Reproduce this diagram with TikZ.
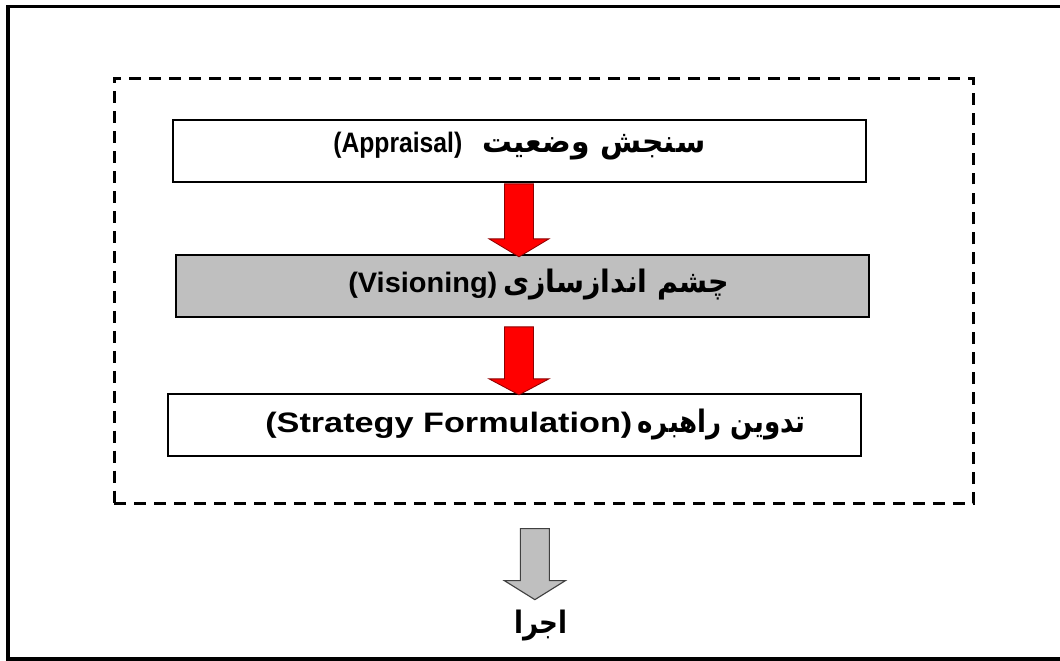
\documentclass[tikz,border=0pt]{standalone}
\usepackage{fontspec}
\usepackage{graphicx}
\setmainfont{Liberation Sans}
\newfontfamily\farsi[Script=Arabic]{DejaVu Sans}
\TeXXeTstate=1
\newcommand{\latinpart}[2]{\resizebox{#1}{\height}{#2}}
\newcommand{\farsipart}[2]{\resizebox{#1}{\height}{\farsi\bfseries\fontsize{22}{26}\selectfont #2}}
\begin{document}
\begin{tikzpicture}[x=0.025cm, y=-0.025cm,
  stage/.style={draw=black, line width=1.3pt, minimum width=17.325cm, minimum height=1.55cm, inner sep=0pt, anchor=north west},
  caption/.style={inner sep=0pt, anchor=base west, font=\bfseries\fontsize{20}{24}\selectfont},
  redarrow/.style={fill=red, draw=red!55!black, line width=0.6pt},
  grayarrow/.style={fill=black!25, draw=black!75, line width=0.8pt}]
\useasboundingbox (0,0) rectangle (1060,660);
% outer frame
\draw[line width=2.6pt] (1060,6.5) -- (8,6.5) -- (8,659) -- (1060,659);
\node[draw, line width=1.8pt, dash pattern=on 8.5pt off 5.7pt, minimum width=21.475cm, minimum height=10.625cm, inner sep=0pt, anchor=north west] (planning) at (113,77) {};
\node[stage, fill=white] (appraisal) at (172,119) {};
\node[stage, fill=black!25] (visioning) at (175,254) {};
\node[stage, fill=white] (strategy) at (167,393) {};
% texts
\node[caption] (appraisalText) at (333,152) {\latinpart{3.225cm}{(Appraisal)}\hspace{0.5cm}\farsipart{5.575cm}{\beginR سنجش وضعیت\endR}};
\node[caption] (visioningText) at (348,292) {\latinpart{3.725cm}{(Visioning)}\hspace{0.15cm}\farsipart{5.65cm}{\beginR چشم اندازسازی\endR}};
\node[caption] (strategyText) at (265,432) {\latinpart{9.175cm}{(Strategy Formulation)}\hspace{0.125cm}\farsipart{4.2cm}{\beginR تدوین راهبره\endR}};
\node[caption, anchor=base] (execution) at (541,633) {\farsipart{1.325cm}{\beginR اجرا\endR}};
% arrows
\draw[redarrow] (appraisal.south) ++(-15,1) -- ++(29,0) -- ++(0,55) -- ++(15.5,0) -- ++(-30,18) -- ++(-30,-18) -- ++(15.5,0) -- cycle;
\draw[redarrow] (visioning.south) ++(-18,9) -- ++(29,0) -- ++(0,52) -- ++(15.5,0) -- ++(-30,16) -- ++(-30,-16) -- ++(15.5,0) -- cycle;
\draw[grayarrow] (planning.south) ++(-23.5,24) -- ++(29,0) -- ++(0,52) -- ++(16,0) -- ++(-30.5,19) -- ++(-30.5,-19) -- ++(16,0) -- cycle;
\end{tikzpicture}
\end{document}
